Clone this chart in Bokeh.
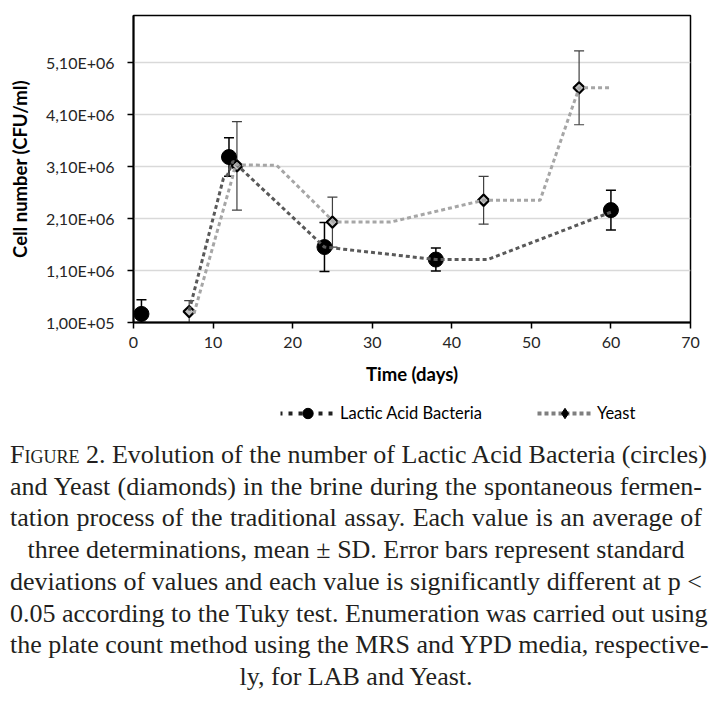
from bokeh.plotting import figure
from bokeh.models import (Range1d, FixedTicker, Whisker, TeeHead, ColumnDataSource,
                          Legend, LegendItem, Div)
from bokeh.layouts import column
from bokeh.embed import file_html
from bokeh.resources import INLINE
import math

# ---------------- data ----------------
lab_days = [1, 12, 24, 38, 60]
lab_mean = [2.65e5, 3.28e6, 1.55e6, 1.31e6, 2.26e6]
lab_sd = [2.7e5, 3.7e5, 4.7e5, 2.2e5, 3.8e5]

yeast_days = [7, 13, 25, 44, 56]
yeast_mean = [3.1e5, 3.11e6, 2.03e6, 2.45e6, 4.61e6]
yeast_sd = [2.1e5, 8.5e5, 4.8e5, 4.6e5, 7.1e5]

# dotted connecting lines as drawn in the chart
lab_line_x = [7, 11.3, 11.8, 12.5, 24, 38, 44.5, 60]
lab_line_y = [3.3e5, 2.87e6, 2.93e6, 3.2e6, 1.55e6, 1.31e6, 1.31e6, 2.22e6]
yeast_line_x = [7.6, 12.4, 12.8, 18, 25.2, 32.3, 44, 51.1, 56, 59.9]
yeast_line_y = [2.7e5, 2.87e6, 3.13e6, 3.12e6, 2.03e6, 2.03e6, 2.45e6, 2.45e6, 4.61e6, 4.61e6]

x_ticks = [0, 10, 20, 30, 40, 50, 60, 70]
y_ticks = [100000, 1100000, 2100000, 3100000, 4100000, 5100000]
y_tick_labels = ["1,00E+05", "1,10E+06", "2,10E+06", "3,10E+06", "4,10E+06", "5,10E+06"]
y_min, y_max = 1e5, 6e6

series_names = ["Lactic Acid Bacteria", "Yeast"]
x_title = "Time (days)"
y_title = "Cell number (CFU/ml)"

caption_lines = [
    '<span style="font-variant:small-caps">Figure</span> 2. Evolution of the number of Lactic Acid Bacteria (circles)',
    "and Yeast (diamonds) in the brine during the spontaneous fermen-",
    "tation process of the traditional assay. Each value is an average of",
    "three determinations, mean \u00b1 SD. Error bars represent standard",
    "deviations of values and each value is significantly different at p &lt;",
    "0.05 according to the Tuky test. Enumeration was carried out using",
    "the plate count method using the MRS and YPD media, respective-",
    "ly, for LAB and Yeast.",
]
justify = [True, True, True, False, True, True, True, False]

LAB_LINE = "#595959"
YEAST_LINE = "#a6a6a6"

# ---------------- main figure ----------------
p = figure(width=715, height=400, x_range=Range1d(0, 70), y_range=Range1d(y_min, y_max),
           output_backend="svg", toolbar_location=None,
           min_border_left=133, min_border_right=25, min_border_top=15, min_border_bottom=78)
p.background_fill_color = "white"
p.border_fill_color = "white"
p.outline_line_color = "black"
p.outline_line_width = 1.5

p.xgrid.visible = False
p.ygrid.ticker = FixedTicker(ticks=y_ticks)
p.ygrid.grid_line_color = "#d9d9d9"
p.ygrid.grid_line_width = 1.5

p.xaxis.ticker = FixedTicker(ticks=x_ticks)
p.yaxis.ticker = FixedTicker(ticks=y_ticks)
p.yaxis.major_label_overrides = {t: l for t, l in zip(y_ticks, y_tick_labels)}

for ax in (p.xaxis, p.yaxis):
    ax.axis_line_color = "black"
    ax.axis_line_width = 2
    ax.major_tick_line_color = "black"
    ax.major_tick_line_width = 1.5
    ax.major_tick_out = 6
    ax.major_tick_in = 0
    ax.minor_tick_line_color = None
    ax.major_label_text_font = "Lato"
    ax.major_label_text_font_size = "16px"
    ax.major_label_text_color = "#262626"
    ax.axis_label_text_font = "Lato"
    ax.axis_label_text_font_size = "18.5px"
    ax.axis_label_text_font_style = "bold"
    ax.axis_label_text_color = "black"

p.xaxis.axis_label = x_title
p.yaxis.axis_label = y_title
p.xaxis.major_label_standoff = 8
p.xaxis.axis_label_standoff = 12
p.yaxis.major_label_standoff = 13
p.yaxis.axis_label_standoff = 12

lab_src = ColumnDataSource(dict(x=lab_days, y=lab_mean,
                                up=[m + s for m, s in zip(lab_mean, lab_sd)],
                                lo=[max(m - s, y_min) for m, s in zip(lab_mean, lab_sd)]))
yeast_src = ColumnDataSource(dict(x=yeast_days, y=yeast_mean,
                                  up=[m + s for m, s in zip(yeast_mean, yeast_sd)],
                                  lo=[max(m - s, y_min) for m, s in zip(yeast_mean, yeast_sd)]))

p.scatter("x", "y", source=lab_src, marker="circle", size=15,
          fill_color="black", line_color="black")
p.scatter("x", "y", source=yeast_src, marker="square", size=8, angle=math.pi / 4,
          fill_color="#bfbfbf", line_color="black", line_width=2.2)

p.line(lab_line_x, lab_line_y, line_color=LAB_LINE, line_width=3, line_dash="4 3")
p.line(yeast_line_x, yeast_line_y, line_color=YEAST_LINE, line_width=3, line_dash="4 3")

p.add_layout(Whisker(source=lab_src, base="x", upper="up", lower="lo", dimension="height",
                     line_color="black", line_width=1.5,
                     upper_head=TeeHead(size=10, line_color="black", line_width=1.5),
                     lower_head=TeeHead(size=10, line_color="black", line_width=1.5)))
p.add_layout(Whisker(source=yeast_src, base="x", upper="up", lower="lo", dimension="height",
                     line_color="#404040", line_width=1.2,
                     upper_head=TeeHead(size=10, line_color="#404040", line_width=1.2),
                     lower_head=TeeHead(size=10, line_color="#404040", line_width=1.2)))

# ---------------- legend strip ----------------
nan = float("nan")
leg = figure(width=715, height=39, x_range=Range1d(0, 1), y_range=Range1d(0, 1),
             x_axis_type=None, y_axis_type=None, output_backend="svg", toolbar_location=None,
             min_border=0, outline_line_color=None)
leg.grid.visible = False
l_line = leg.line(x=[nan], y=[nan], line_color="#222222", line_width=4, line_dash="4 6",
                  line_dash_offset=2)
l_pts = leg.scatter(x=[nan], y=[nan], marker="circle", size=13, fill_color="black", line_color="black")
y_line = leg.line(x=[nan], y=[nan], line_color="#7f7f7f", line_width=4, line_dash="4 3")
y_pts = leg.scatter(x=[nan], y=[nan], marker="diamond", size=13,
                    fill_color="black", line_color="black", line_width=1)
legend = Legend(items=[LegendItem(label=series_names[0], renderers=[l_line, l_pts]),
                       LegendItem(label=series_names[1], renderers=[y_line, y_pts])],
                orientation="horizontal", location=(147, 13),
                glyph_width=55, glyph_height=26, label_standoff=5, spacing=55,
                padding=0, margin=0, border_line_color=None, background_fill_alpha=0,
                label_text_font="Lato", label_text_font_size="16.5px", label_text_color="black")
leg.add_layout(legend)

# ---------------- caption ----------------
parts = []
for line, j in zip(caption_lines, justify):
    if j:
        st = "text-align:justify;text-align-last:justify;"
    else:
        st = "text-align:center;"
    parts.append(f'<div style="{st}white-space:nowrap;">{line}</div>')
html = ('<div style="font-family:\'Liberation Serif\';font-size:26px;line-height:31.7px;'
        'color:#231f20;width:702px;padding-left:10px;">' + "".join(parts) + "</div>")
cap = Div(text=html, width=715, height=254, margin=(0, 0, 0, 0))

page = column(p, leg, cap, spacing=0)
open("out.html", "w").write(file_html(page, INLINE))
